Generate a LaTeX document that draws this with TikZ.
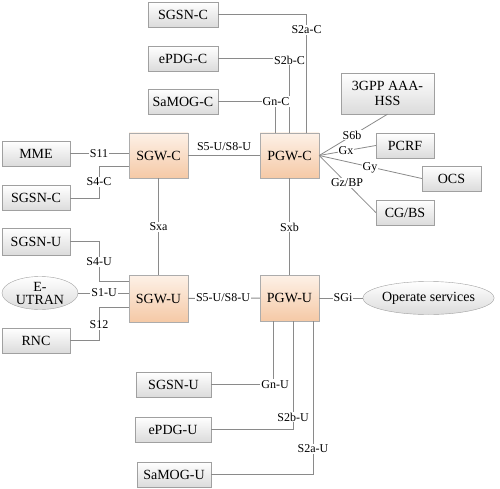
\documentclass[tikz,border=0pt]{standalone}
\usepackage{fontspec}
\setmainfont{Liberation Serif}
\usepackage{xcolor}
\usetikzlibrary{positioning, calc, shapes.geometric}

\definecolor{boxline}{HTML}{A0A0A0}
\definecolor{linegray}{HTML}{8A8A8A}
\definecolor{gwtop}{HTML}{FDF1E7}
\definecolor{gwbot}{HTML}{F5C9A6}

\tikzset{
  netbox/.style={draw=boxline, top color=white, bottom color=gray!28,
    minimum width=70, minimum height=25, inner sep=1pt,
    font=\rmfamily\fontsize{14}{15}\selectfont},
  gwbox/.style={draw=gray!65, top color=gwtop, bottom color=gwbot,
    minimum width=59, minimum height=45, inner sep=1pt,
    font=\rmfamily\fontsize{14}{15}\selectfont},
  netell/.style={ellipse, draw=boxline, top color=white, bottom color=gray!28,
    inner sep=0pt, align=center, font=\rmfamily\fontsize{14}{13}\selectfont},
  link/.style={draw=linegray, line width=0.8pt},
  iflabel/.style={fill=white, inner sep=1pt, font=\rmfamily\fontsize{12}{13}\selectfont},
}

\begin{document}
\begin{tikzpicture}[x=1pt, y=-1pt]
    \useasboundingbox (0,0) rectangle (500,489);

    % 网关
    \node[gwbox] (sgwc) at (158.5, 155.5) {SGW-C};
    \node[gwbox] (pgwc) at (289.5, 155.5) {PGW-C};
    \node[gwbox, minimum height=47] (sgwu) at (158.5, 298.5) {SGW-U};
    \node[gwbox, minimum height=46] (pgwu) at (289.5, 298) {PGW-U};

    % 上方控制面网元
    \node[netbox] (sgsnct) at (183, 14.5) {SGSN-C};
    \node[netbox] (epdgc) at (183, 58.5) {ePDG-C};
    \node[netbox] (samogc) at (183, 101.5) {SaMOG-C};

    % 左侧网元
    \node[netbox, minimum width=68] (mme) at (36, 153.5) {MME};
    \node[netbox, minimum width=68] (sgsncl) at (36, 198) {SGSN-C};
    \node[netbox, minimum width=68, minimum height=27] (sgsnul) at (36, 241.5) {SGSN-U};
    \node[netell, minimum width=76, minimum height=33] (eutran) at (40, 293) {E-\\UTRAN};
    \node[netbox, minimum width=68] (rnc) at (36, 340.5) {RNC};

    % 右侧网元
    \node[netbox, minimum width=93, minimum height=41, align=center] (aaa) at (387.5, 93.5) {3GPP AAA-\\HSS};
    \node[netbox, minimum width=58] (pcrf) at (405, 145.5) {PCRF};
    \node[netbox, minimum width=59] (ocs) at (451.5, 178.5) {OCS};
    \node[netbox, minimum width=58] (cgbs) at (405, 212.5) {CG/BS};
    \node[netell, minimum width=123, minimum height=33] (ops) at (428.5, 298) {Operate services};

    % 下方用户面网元
    \node[netbox, minimum width=75] (sgsnub) at (173.5, 384.5) {SGSN-U};
    \node[netbox, minimum width=76] (epdgu) at (173, 429.5) {ePDG-U};
    \node[netbox, minimum width=74] (samogu) at (174, 474.5) {SaMOG-U};

    % PGW-C 上方接口
    \draw[link] (sgsnct.east) -| ([xshift=-13]pgwc.north east);
    \draw[link] (epdgc.east) -| (pgwc.north);
    \draw[link] (samogc.east) -| ([xshift=-14.5]pgwc.north);
    \node[iflabel] (s2ac) at (306.5, 30) {S2a-C};
    \node[iflabel] (s2bc) at (289.5, 60) {S2b-C};
    \node[iflabel] (gnc) at (276, 101.5) {Gn-C};

    % SGW-C 接口
    \draw[link] (mme.east) -- (mme.east -| sgwc.west);
    \node[iflabel] (s11) at (99, 153.5) {S11};
    \draw[link] (sgsncl.east) -- ++(29,0) |- ([yshift=-10.5]sgwc.west);
    \node[iflabel] (s4c) at (99, 182) {S4-C};
    \draw[link] (sgwc) -- (pgwc);
    \node[font=\rmfamily\fontsize{12}{13}\selectfont] (s5c) at (224, 147) {S5-U/S8-U};
    \draw[link] (sgwc) -- (sgwu);
    \node[iflabel] (sxa) at (158.5, 227) {Sxa};
    \draw[link] (pgwc) -- (pgwu);
    \node[iflabel] (sxb) at (289.5, 227) {Sxb};

    % PGW-C 右侧接口
    \coordinate (fan) at (pgwc.east);
    \draw[link] (fan) -- (aaa.south);
    \draw[link] (fan) -- (pcrf.west);
    \draw[link] (fan) -- (ocs.west);
    \draw[link] (fan) -- (cgbs.west);
    \node[iflabel] (s6b) at (352, 135) {S6b};
    \node[iflabel] (gx) at (346, 151) {Gx};
    \node[iflabel] (gy) at (370, 168) {Gy};
    \node[iflabel] (gz) at (347, 183) {Gz/BP};

    % SGW-U 接口
    \draw[link] (sgsnul.east) -- ++(29,0) |- ([yshift=17.5]sgwu.west);
    \node[iflabel] (s4u) at (99, 262) {S4-U};
    \draw[link] (eutran.east) -- (eutran.east -| sgwu.west);
    \node[iflabel] (s1u) at (104, 293) {S1-U};
    \draw[link] (rnc.east) -- ++(29,0) |- ([yshift=-8.5]sgwu.west);
    \node[iflabel] (s12) at (99, 325) {S12};
    \draw[link] (sgwu) -- (pgwu);
    \node[iflabel] (s5u) at (223, 298) {S5-U/S8-U};

    % PGW-U 接口
    \draw[link] (pgwu) -- (ops);
    \node[iflabel] (sgi) at (343, 298) {SGi};
    \draw[link] ([xshift=-16]pgwu.south) |- (sgsnub.east);
    \node[iflabel] (gnu) at (275, 384.5) {Gn-U};
    \draw[link] ([xshift=4]pgwu.south) |- (epdgu.east);
    \node[iflabel] (s2bu) at (293, 417) {S2b-U};
    \draw[link] ([xshift=24]pgwu.south) |- (samogu.east);
    \node[iflabel] (s2au) at (313, 449) {S2a-U};
\end{tikzpicture}
\end{document}
